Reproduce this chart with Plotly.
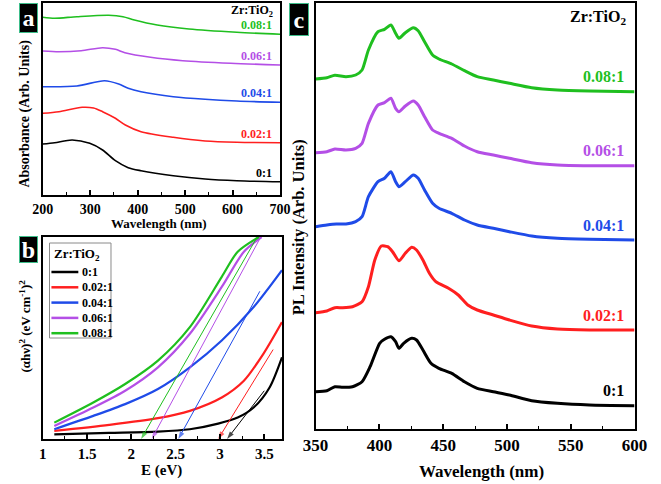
import plotly.graph_objects as go

W, H = 661, 484

labels = ["0:1", "0.02:1", "0.04:1", "0.06:1", "0.08:1"]
colors = ["#000000", "#ff1f1f", "#1f4be8", "#b44fe6", "#1fbf1f"]

# ---------- Panel a: absorbance ----------
abs_x = [
    [200, 225, 262, 299, 326, 353, 380, 407, 475, 542, 609, 700],
    [200, 234, 283, 307, 326, 353, 374, 407, 475, 542, 609, 700],
    [200, 272, 330, 360, 380, 407, 475, 542, 609, 700],
    [200, 234, 281, 326, 353, 373, 427, 495, 596, 700],
    [200, 225, 272, 339, 369, 393, 441, 508, 609, 700],
]
abs_y = [
    [51, 52.3, 55, 51.7, 45, 34.3, 27.3, 24.3, 19.3, 16, 14.3, 13.3],
    [81.7, 83.3, 87.7, 87, 83.3, 76.7, 70, 63.3, 57.7, 54, 52.7, 52.3],
    [108.3, 109, 114.3, 111, 106.7, 103.3, 98.3, 95.7, 94, 92.7],
    [144, 143.3, 144.3, 147.3, 145.7, 142.3, 137.7, 134.3, 131.7, 130],
    [177.7, 176.7, 178.3, 179.7, 178.3, 175, 170, 166, 162.7, 160.7],
]

# ---------- Panel b: Tauc plot ----------
tauc_E = [
    [1.13, 1.75, 2.3, 2.66, 2.98, 3.2, 3.38, 3.56, 3.7],
    [1.13, 1.75, 2.3, 2.66, 3.02, 3.27, 3.49, 3.7],
    [1.13, 1.57, 1.93, 2.3, 2.66, 3.02, 3.38, 3.7],
    [1.13, 1.57, 1.93, 2.3, 2.66, 3.02, 3.27, 3.47],
    [1.13, 1.57, 1.93, 2.3, 2.66, 3.02, 3.2, 3.44],
]
tauc_y = [
    [4.7, 6, 7.3, 9.7, 15.3, 21.3, 31.3, 51.3, 81.3],
    [8, 14, 20.7, 28, 41.3, 58, 84.7, 116.3],
    [9.7, 23, 34.7, 49.7, 71.3, 98, 131.3, 168],
    [13, 31.3, 48, 71.3, 104.7, 151.3, 186.3, 201],
    [16.3, 36.3, 54.7, 78, 111.3, 161.3, 186.3, 201],
]
# band-gap tangent lines: intercept E0 -> upper point (E1, Y1)
gap_E0 = [3.08, 2.98, 2.53, 2.23, 2.11]
gap_E1 = [3.5, 3.6, 3.45, 3.46, 3.42]
gap_Y1 = [48, 89, 147, 201, 201]

# ---------- Panel c: PL spectra ----------
pl_x = [
    [350, 358.8, 365.1, 371.3, 378.9, 386.4, 392.7, 400.2, 404, 409, 412.7, 415.3, 419, 425.3, 429.1,
     434.1, 440.4, 446.6, 456.7, 466.7, 476.7, 489.3, 501.9, 519.4, 539.5, 564.6, 600],
    [350, 358.8, 365.1, 371.3, 378.9, 386.4, 391.4, 396.4, 401.5, 406.5, 410.3, 415.3, 420.3, 425.3,
     429.1, 434.1, 439.2, 444.2, 454.2, 461.8, 469.3, 476.7, 489.3, 501.9, 519.4, 539.5, 564.6, 600],
    [350, 358.8, 366.3, 373.8, 381.4, 386.4, 391.4, 398.9, 404, 409, 412.7, 415.3, 420.3, 426.6, 430.4,
     435.4, 441.7, 446.7, 456.7, 466.7, 476.7, 489.3, 501.9, 519.4, 539.5, 564.6, 600],
    [350, 358.8, 365.1, 373.8, 381.4, 386.4, 391.4, 398.9, 404, 409, 412.7, 415.3, 420.3, 426.6, 430.4,
     435.4, 441.7, 446.7, 456.7, 466.7, 476.7, 489.3, 501.9, 519.4, 539.5, 564.6, 600],
    [350, 358.8, 365.1, 373.8, 381.4, 386.4, 391.4, 398.9, 404, 409, 412.7, 415.3, 420.3, 426.6, 430.4,
     435.4, 441.7, 446.7, 456.7, 466.7, 476.7, 489.3, 501.9, 519.4, 539.5, 564.6, 600],
]
pl_y = [
    [37.3, 38.3, 42.3, 41.7, 42.3, 47.3, 62.3, 85.7, 89.7, 92.3, 87.3, 80.7, 85.7, 90.7, 89,
     79, 65.7, 60.7, 55.7, 47.3, 40.7, 37.3, 34, 28.3, 25.7, 24, 23.3],
    [116.3, 118, 121.3, 121.3, 122.3, 127.3, 142.3, 169, 183, 182.3, 177.3, 168.3, 175.7, 181.7,
     179, 169, 155.7, 147.3, 140.7, 134, 124, 119, 114, 109, 103, 100, 99, 99],
    [202.3, 204, 205, 205, 207.3, 212.3, 232.3, 247.3, 250.7, 257.3, 247.3, 242.3, 247.3, 254, 250.7,
     239, 225.7, 220.7, 215.7, 209, 204, 200.7, 197.3, 193, 190.7, 189.7, 189],
    [276.3, 277.3, 280, 279, 280.7, 285.7, 305.7, 324, 326.3, 330.7, 320.7, 317.3, 323, 328, 324,
     312.3, 299, 295.7, 290.7, 283, 277.3, 274, 270.7, 266.3, 264, 263.3, 263.3],
    [350, 351.3, 353.7, 352.3, 354, 359, 379, 397.3, 399.7, 404, 395.7, 390.7, 396.3, 401.3, 398.3,
     387.3, 374, 370, 365, 358.3, 352.3, 349, 345.7, 341.3, 339, 338, 337.3],
]

SERIF = "Liberation Serif"


def px_x(p):
    return p / W


def px_y(p):
    return 1 - p / H


fig = go.Figure()

# panel a traces
for i in range(5):
    fig.add_trace(go.Scatter(x=abs_x[i], y=abs_y[i], mode="lines", xaxis="x", yaxis="y",
                             line=dict(color=colors[i], width=1.6, shape="spline", smoothing=0.8),
                             showlegend=False, hoverinfo="skip"))
# panel b traces
for i in range(5):
    fig.add_trace(go.Scatter(x=tauc_E[i], y=tauc_y[i], mode="lines", xaxis="x2", yaxis="y2",
                             name=labels[i],
                             line=dict(color=colors[i], width=2.2, shape="spline", smoothing=0.8),
                             showlegend=False, hoverinfo="skip"))
for i in range(5):
    fig.add_trace(go.Scatter(x=[gap_E1[i], gap_E0[i]], y=[gap_Y1[i], 0], mode="lines+markers",
                             xaxis="x2", yaxis="y2", cliponaxis=False,
                             line=dict(color=colors[i], width=1),
                             marker=dict(symbol="arrow", angleref="previous", size=[0, 8],
                                         color=colors[i], line=dict(width=0)),
                             showlegend=False, hoverinfo="skip"))
# panel c traces
for i in range(5):
    fig.add_trace(go.Scatter(x=pl_x[i], y=pl_y[i], mode="lines", xaxis="x3", yaxis="y3",
                             line=dict(color=colors[i], width=3, shape="spline", smoothing=0.6),
                             showlegend=False, hoverinfo="skip"))

axis_common = dict(showline=True, linecolor="black", linewidth=1.5, mirror=True,
                   showgrid=False, zeroline=False, ticks="inside", ticklen=5, tickwidth=1.5,
                   tickcolor="black")
yaxis_common = dict(showline=True, linecolor="black", linewidth=1.5, mirror=True,
                    showgrid=False, zeroline=False, showticklabels=False, ticks="")

fig.update_layout(
    width=W, height=H, autosize=False,
    margin=dict(l=0, r=0, t=0, b=0),
    paper_bgcolor="white", plot_bgcolor="white",
    showlegend=False,
    font=dict(family=SERIF, color="black", weight="bold"),
    xaxis=dict(domain=[px_x(31), px_x(278)], range=[200, 700], anchor="y", dtick=100,
               minor=dict(dtick=50, ticks="inside", ticklen=3, tickwidth=1.2, tickcolor="black"),
               tickfont=dict(size=14, family=SERIF, weight="bold"), **axis_common),
    yaxis=dict(domain=[px_y(195), px_y(3)], range=[0, 192], anchor="x", **yaxis_common),
    xaxis2=dict(domain=[px_x(31), px_x(280)], range=[1, 3.7], anchor="y2", dtick=0.5,
                minor=dict(dtick=0.25, ticks="inside", ticklen=3, tickwidth=1.2, tickcolor="black"),
                tickfont=dict(size=15, family=SERIF, weight="bold"), **axis_common),
    yaxis2=dict(domain=[px_y(439), px_y(237)], range=[0, 201], anchor="x2", **yaxis_common),
    xaxis3=dict(domain=[px_x(315), px_x(647)], range=[350, 600], anchor="y3", dtick=50,
                minor=dict(dtick=25, ticks="inside", ticklen=3, tickwidth=1.2, tickcolor="black"),
                tickfont=dict(size=17, family=SERIF, weight="bold"), **axis_common),
    yaxis3=dict(domain=[px_y(429), px_y(3)], range=[0, 426], anchor="x3", **yaxis_common),
)

ann = []
shapes = []
# curve labels panel a
for i in range(5):
    ann.append(dict(x=abs_x[i][-1], y=abs_y[i][-1], xref="x", yref="y", text=labels[i],
                    showarrow=False, xanchor="right", yanchor="middle", xshift=-6, yshift=9,
                    font=dict(size=12, color=colors[i], family=SERIF, weight="bold")))
# curve labels panel c
for i in range(5):
    ann.append(dict(x=pl_x[i][-1], y=pl_y[i][-1], xref="x3", yref="y3", text=labels[i],
                    showarrow=False, xanchor="right", yanchor="middle", xshift=-9, yshift=15,
                    font=dict(size=16, color=colors[i], family=SERIF, weight="bold")))
# series headers
ann.append(dict(x=px_x(273), y=px_y(10.5), xref="paper", yref="paper", text="Zr:TiO<sub>2</sub>",
                showarrow=False, xanchor="right", yanchor="middle",
                font=dict(size=12, family=SERIF, weight="bold")))
ann.append(dict(x=px_x(640), y=px_y(17), xref="paper", yref="paper", text="Zr:TiO<sub>2</sub>",
                showarrow=False, xanchor="right", yanchor="middle",
                font=dict(size=16, family=SERIF, weight="bold")))

# legend for panel b (drawn box + samples)
shapes.append(dict(type="rect", xref="paper", yref="paper",
                   x0=px_x(38), x1=px_x(102), y0=px_y(338), y1=px_y(243),
                   line=dict(color="#8a8a8a", width=1), fillcolor="white", layer="above"))
ann.append(dict(x=px_x(41), y=px_y(254), xref="paper", yref="paper", text="Zr:TiO<sub>2</sub>",
                showarrow=False, xanchor="left", yanchor="middle",
                font=dict(size=13, family=SERIF, weight="bold")))
for i in range(5):
    yy = 272 + 15.3 * i
    shapes.append(dict(type="line", xref="paper", yref="paper",
                       x0=px_x(40), x1=px_x(68), y0=px_y(yy), y1=px_y(yy),
                       line=dict(color=colors[i], width=2.5), layer="above"))
    ann.append(dict(x=px_x(70), y=px_y(yy), xref="paper", yref="paper", text=labels[i],
                    showarrow=False, xanchor="left", yanchor="middle",
                    font=dict(size=12, family=SERIF, weight="bold")))

# axis titles
ann.append(dict(x=px_x(152), y=px_y(223.5), xref="paper", yref="paper", text="Wavelength (nm)",
                showarrow=False, xanchor="center", yanchor="middle",
                font=dict(size=13, family=SERIF, weight="bold")))
ann.append(dict(x=px_x(155), y=px_y(470), xref="paper", yref="paper", text="E (eV)",
                showarrow=False, xanchor="center", yanchor="middle",
                font=dict(size=15, family=SERIF, weight="bold")))
ann.append(dict(x=px_x(488), y=px_y(471), xref="paper", yref="paper", text="Wavelength (nm)",
                showarrow=False, xanchor="center", yanchor="middle",
                font=dict(size=17, family=SERIF, weight="bold")))
ann.append(dict(x=px_x(12), y=px_y(114), xref="paper", yref="paper", text="Absorbance (Arb. Units)",
                showarrow=False, textangle=-90, xanchor="center", yanchor="middle",
                font=dict(size=14, family=SERIF, weight="bold")))
ann.append(dict(x=px_x(12), y=px_y(326), xref="paper", yref="paper",
                text="(\u03b1h\u03bd)<sup>2</sup> (eV cm<sup>-1</sup>)<sup>2</sup>",
                showarrow=False, textangle=-90, xanchor="center", yanchor="middle",
                font=dict(size=13, family=SERIF, weight="bold")))
ann.append(dict(x=px_x(297), y=px_y(227), xref="paper", yref="paper", text="PL Intensity (Arb. Units)",
                showarrow=False, textangle=-90, xanchor="center", yanchor="middle",
                font=dict(size=16.5, family=SERIF, weight="bold")))
# panel letters
for letter, cx, cy, bw, bh in [("a", 16.5, 18, 17, 28), ("b", 16.5, 250, 17, 25), ("c", 298, 19.5, 18, 31)]:
    ann.append(dict(x=px_x(cx), y=px_y(cy), xref="paper", yref="paper", text=letter,
                    showarrow=False, xanchor="center", yanchor="middle",
                    width=bw, height=bh, bgcolor="black", bordercolor="#3dbd8a", borderwidth=1,
                    borderpad=0,
                    font=dict(size=24, color="white", family=SERIF, weight="bold")))

fig.update_layout(annotations=ann, shapes=shapes)
fig.write_html("out.html", config={"displayModeBar": False},
               post_script="document.body.style.margin='0px';")
